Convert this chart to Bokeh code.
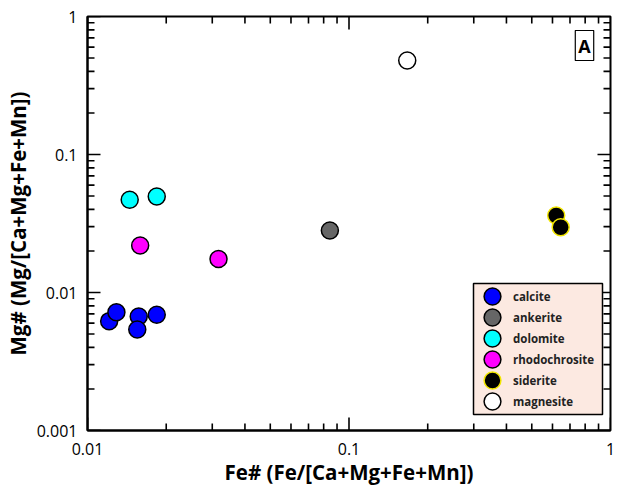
import math
from bokeh.plotting import figure
from bokeh.models import (FixedTicker, CustomJSTickFormatter, Legend, LegendItem,
                          BoxAnnotation, Label)
from bokeh.embed import file_html
from bokeh.resources import INLINE

# ---- data ----
calcite_x = [0.0121, 0.0129, 0.0157, 0.0155, 0.0184]
calcite_y = [0.0062, 0.0072, 0.0067, 0.0054, 0.0069]
ankerite_x = [0.0845]
ankerite_y = [0.0281]
dolomite_x = [0.0145, 0.0184]
dolomite_y = [0.0470, 0.0496]
rhodochrosite_x = [0.0159, 0.0317]
rhodochrosite_y = [0.0219, 0.0175]
siderite_x = [0.620, 0.645]
siderite_y = [0.0361, 0.0297]
magnesite_x = [0.167]
magnesite_y = [0.48]

x_ticks = [0.01, 0.1, 1]
x_tick_labels = ["0.01", "0.1", "1"]
x_minor = [0.02, 0.03, 0.04, 0.05, 0.06, 0.07, 0.08, 0.09,
           0.2, 0.3, 0.4, 0.5, 0.6, 0.7, 0.8, 0.9]
y_ticks = [0.001, 0.01, 0.1, 1]
y_tick_labels = ["0.001", "0.01", "0.1", "1"]
y_minor = [0.002, 0.003, 0.004, 0.005, 0.006, 0.007, 0.008, 0.009,
           0.02, 0.03, 0.04, 0.05, 0.06, 0.07, 0.08, 0.09,
           0.2, 0.3, 0.4, 0.5, 0.6, 0.7, 0.8, 0.9]

minerals = ["calcite", "ankerite", "dolomite", "rhodochrosite", "siderite", "magnesite"]
fills = ["#0000FF", "#666666", "#00FFFF", "#FF00FF", "#000000", "#FFFFFF"]
edges = ["black", "black", "black", "black", "#F2E600", "black"]
xs = [calcite_x, ankerite_x, dolomite_x, rhodochrosite_x, siderite_x, magnesite_x]
ys = [calcite_y, ankerite_y, dolomite_y, rhodochrosite_y, siderite_y, magnesite_y]

FONT = "Open Sans"
XMIN, XMAX = x_ticks[0], x_ticks[-1]
YMIN, YMAX = y_ticks[0], y_ticks[-1]

p = figure(frame_width=523, frame_height=414, x_axis_type="log", y_axis_type="log",
           x_range=(XMIN, XMAX), y_range=(YMIN, YMAX),
           output_backend="svg", toolbar_location=None,
           min_border_left=87, min_border_right=8, min_border_top=16, min_border_bottom=55)
p.background_fill_color = "white"
p.border_fill_color = "white"
p.grid.visible = False
p.outline_line_color = "black"
p.outline_line_width = 2

def fmt(tvals, tlabels):
    return CustomJSTickFormatter(args=dict(tvals=tvals, tlabels=tlabels), code="""
        for (let i = 0; i < tvals.length; i++) {
            if (Math.abs(Math.log10(tvals[i]) - Math.log10(tick)) < 1e-6) return tlabels[i];
        }
        return "";
    """)

for ax, tk, mn, lbls, title in [(p.xaxis[0], x_ticks, x_minor, x_tick_labels, "Fe# (Fe/[Ca+Mg+Fe+Mn])"),
                                (p.yaxis[0], y_ticks, y_minor, y_tick_labels, "Mg# (Mg/[Ca+Mg+Fe+Mn])")]:
    ax.ticker = FixedTicker(ticks=tk, minor_ticks=mn)
    ax.formatter = fmt(tk, lbls)
    ax.axis_label = title
    ax.axis_line_width = 2
    ax.axis_line_color = "black"
    ax.major_tick_in = 0
    ax.major_tick_out = 0
    ax.minor_tick_in = 0
    ax.minor_tick_out = 0
    ax.major_label_text_font = FONT
    ax.major_label_text_font_size = "16px"
    ax.major_label_text_color = "black"
    ax.axis_label_text_font = FONT
    ax.axis_label_text_font_size = "20.5px"
    ax.axis_label_text_font_style = "bold"
    ax.axis_label_text_color = "black"
p.xaxis[0].major_label_standoff = 12
p.xaxis[0].axis_label_standoff = 0
p.yaxis[0].major_label_standoff = 10
p.yaxis[0].axis_label_standoff = 2

# inward tick marks on all four sides (half of each dash is clipped by the frame)
MAJ, MIN_ = 26, 14
tick_kw = dict(marker="dash", line_color="black", line_width=1.6)
for ticks, size in [(x_ticks, MAJ), (x_minor, MIN_)]:
    p.scatter(ticks, [YMIN] * len(ticks), size=size, angle=math.pi / 2, **tick_kw)
    p.scatter(ticks, [YMAX] * len(ticks), size=size, angle=math.pi / 2, **tick_kw)
for ticks, size in [(y_ticks, MAJ), (y_minor, MIN_)]:
    p.scatter([XMIN] * len(ticks), ticks, size=size, **tick_kw)
    p.scatter([XMAX] * len(ticks), ticks, size=size, **tick_kw)

# legend background
bg = BoxAnnotation(left=473, right=602, top=283, bottom=414,
                   left_units="canvas", right_units="canvas",
                   top_units="canvas", bottom_units="canvas",
                   fill_color="#FCE9E1", fill_alpha=1.0,
                   line_color="black", line_width=1.5, line_alpha=1.0)
p.add_layout(bg)

S = 17
renderers = []
for xv, yv, fc, lc in zip(xs, ys, fills, edges):
    renderers.append(p.scatter(xv, yv, size=S, fill_color=fc, line_color=lc, line_width=1.5))

# one single-entry legend per row so that rows are 21px apart while markers stay 17px wide
for i, (name, r) in enumerate(zip(minerals, renderers)):
    lg = Legend(items=[LegendItem(label=name, renderers=[r])],
                location=(384, 113 - 21 * i), glyph_width=42, glyph_height=42,
                padding=0, spacing=0, margin=0, label_standoff=0, label_height=20,
                label_text_font=FONT, label_text_font_size="11.5px",
                label_text_font_style="bold", label_text_color="#222222",
                border_line_color=None, background_fill_color=None,
                background_fill_alpha=0)
    p.add_layout(lg)

lab = Label(x=497, y=385, x_units="screen", y_units="screen", text="A",
            text_font=FONT, text_font_size="18px", text_font_style="bold",
            text_align="center", text_baseline="middle", text_color="black",
            border_line_color="black", border_line_width=1.2,
            background_fill_color="white", padding=3)
p.add_layout(lab)

open("out.html", "w").write(file_html(p, INLINE))
